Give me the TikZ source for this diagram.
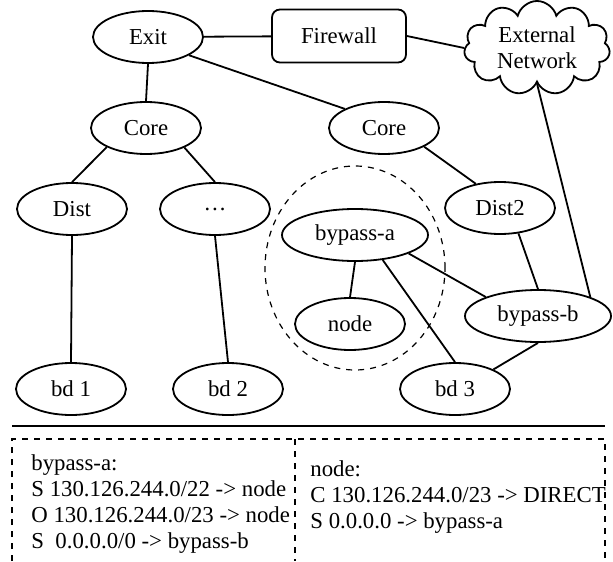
\documentclass[tikz,border=0pt]{standalone}
\usepackage{fontspec}
\setmainfont{Liberation Serif}
\usepackage{tikz}
\usetikzlibrary{shapes.geometric, shapes.symbols}
\tikzset{router/.style={draw, ellipse, line width=0.9pt, minimum width=55pt, minimum height=26pt, inner sep=0pt}}
\tikzset{bypass/.style={router, minimum width=73pt}}
\tikzset{link/.style={line width=0.9pt}}
\tikzset{frame/.style={dashed, line width=0.6pt}}
\tikzset{table/.style={align=left, anchor=north west, inner sep=0pt}}

\begin{document}
\begin{tikzpicture}[x=0.5pt, y=-0.5pt, font=\fontsize{11.4}{13}\selectfont]
	\useasboundingbox (0,0) rectangle (613,561);
	\node[router] (exit) at (148,37) {Exit};
	\node[draw, rounded corners=4pt, line width=0.9pt, minimum width=67pt, minimum height=26.5pt] (firewall) at (339,36) {Firewall};
	\node[draw, cloud, cloud puffs=11, cloud ignores aspect, line width=0.9pt, align=center, inner sep=-4pt, minimum width=73pt, minimum height=47pt] (extnet) at (537,48) {External\\Network};
	\node[router] (corea) at (146,128) {Core};
	\node[router] (coreb) at (384,128) {Core};
	\node[router] (dist) at (72,209) {Dist};
	\node[router] (dots) at (215,209) {\dots};
	\node[router] (dist2) at (500,208) {Dist2};
	\node[bypass] (bypassa) at (355,235) {bypass-a};
	\node[router] (node) at (350,324) {node};
	\node[bypass] (bypassb) at (538,316) {bypass-b};
	\node[router] (bd1) at (71,389) {bd 1};
	\node[router] (bd2) at (228,389) {bd 2};
	\node[router] (bd3) at (455,389) {bd 3};
	\draw[frame] (355,268) ellipse [x radius=45pt, y radius=51pt];
	\draw[link] (exit) -- (firewall);
	\draw[link] (firewall.east) -- (extnet.west);
	\draw[link] (exit.south) -- (corea.north);
	\draw[link] (exit.336) -- (coreb.154);
	\draw[link] (corea.206) -- (dist.north);
	\draw[link] (corea.333) -- (dots.north);
	\draw[link] (dist.south) -- (bd1.north);
	\draw[link] (dots.south) -- (bd2.north);
	\draw[link] (coreb.335) -- (dist2.135);
	\draw[link] (dist2.306) -- (bypassb.north);
	\draw[link] (bypassa.south) -- (node.north);
	\draw[link] (bypassa.318) -- (bd3.north);
	\draw[link] (bypassa.341) -- (bypassb.160);
	\draw[link] (bypassb.south) -- (bd3.27);
	\draw[link] (extnet.south) -- (bypassb.20);
	\draw[line width=1.25pt] (12,426) -- (605,426);
	\draw[frame] (12,561) -- (12,439) -- (605,439) -- (605,561);
	\draw[frame] (295,439) -- (295,561);
	\node[table] (tablea) at (31,454) {bypass-a:\\S 130.126.244.0/22 -> node\\O 130.126.244.0/23 -> node\\S\ \ 0.0.0.0/0 -> bypass-b};
	\node[table] (tableb) at (310,460) {node:\\C 130.126.244.0/23 -> DIRECT\\S 0.0.0.0 -> bypass-a};
\end{tikzpicture}
\end{document}
